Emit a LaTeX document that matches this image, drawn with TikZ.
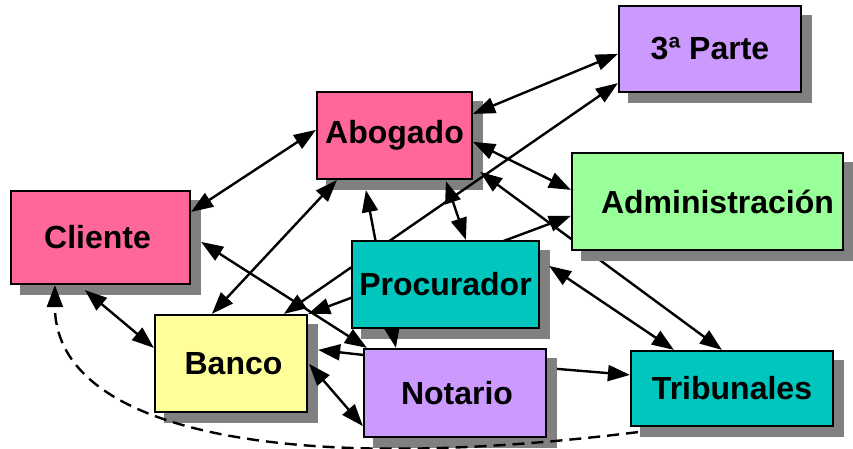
\documentclass[tikz,border=0pt]{standalone}
\usepackage{fontspec}
\setmainfont{Liberation Sans}
\usetikzlibrary{arrows.meta,calc}
\pgfdeclarelayer{shadows}
\pgfdeclarelayer{frontshadow}
\pgfdeclarelayer{front}
\pgfsetlayers{shadows,main,frontshadow,front}
\definecolor{pinkbox}{RGB}{255,102,153}
\definecolor{violetbox}{RGB}{204,153,255}
\definecolor{greenbox}{RGB}{153,255,153}
\definecolor{yellowbox}{RGB}{255,255,153}
\definecolor{tealbox}{RGB}{0,198,190}
\definecolor{shadowgray}{RGB}{128,128,128}
\begin{document}
\begin{tikzpicture}[x=1pt,y=-1pt,
  box/.style={draw=black, line width=2.2pt, inner sep=0pt,
    font=\fontsize{32}{38}\selectfont\bfseries},
  link/.style={line width=2.4pt, -{Triangle[length=22pt,width=16pt]}},
  twoway/.style={line width=2.4pt, {Triangle[length=22pt,width=16pt]}-{Triangle[length=22pt,width=16pt]}},
  dashlink/.style={line width=2.4pt, dash pattern=on 12pt off 7pt, -{Triangle[length=22pt,width=16pt]}}]
\useasboundingbox (0,0) rectangle (853,449);

% boxes
\begin{pgfonlayer}{front}
\node[box, fill=pinkbox,   minimum width=179pt, minimum height=93pt] (cl) at (100.5,237.5) {Cliente\hspace*{6pt}};
\node[box, fill=pinkbox,   minimum width=155pt, minimum height=87pt] (ab) at (394.5,135.5) {Abogado};
\node[box, fill=violetbox, minimum width=182pt, minimum height=86pt] (tp) at (710,49) {3ª Parte};
\node[box, fill=greenbox,  minimum width=271pt, minimum height=97pt] (ad) at (707.5,201.5) {\hspace*{20pt}Administración};
\node[box, fill=tealbox,   minimum width=187pt, minimum height=87pt] (pr) at (445.5,284.5) {Procurador};
\node[box, fill=yellowbox, minimum width=152pt, minimum height=97pt] (bn) at (231,363.5) {\hspace*{5pt}Banco};
\node[box, fill=violetbox, minimum width=182pt, minimum height=88pt] (nt) at (455,393) {\hspace*{4pt}Notario};
\node[box, fill=tealbox,   minimum width=202pt, minimum height=75pt] (tr) at (732,388.5) {Tribunales};
\end{pgfonlayer}

% drop shadows
\begin{pgfonlayer}{shadows}
\foreach \n in {cl,ab,tp,pr,bn,nt,tr}
  \fill[shadowgray] ($(\n.south west)+(10,10)$) rectangle ($(\n.north east)+(10,10)$);
\end{pgfonlayer}
\begin{pgfonlayer}{frontshadow}
\fill[shadowgray] ($(ad.south west)+(10,10)$) rectangle ($(ad.north east)+(10,10)$);
\end{pgfonlayer}

% connectors
\draw[twoway] ($(cl.north east)+(0,22)$) -- ($(ab.north west)+(0,39)$);
\draw[twoway] ($(cl.south west)+(75,5)$) -- ($(bn.north west)+(0,34)$);
\draw[twoway] ($(cl.north east)+(10,52)$) -- ($(nt.north west)+(4,0)$);
\draw[dashlink] ($(tr.south west)+(8,5)$) .. controls (250,480) and (55,420) .. ($(cl.south west)+(45,0)$);
\draw[twoway] ($(ab.south west)+(21,0)$) -- ($(bn.north west)+(58,0)$);
\draw[twoway] ($(bn.north west)+(130,0)$) -- ($(tp.south west)+(0,-10)$);
\draw[twoway] (bn.north east) -- ($(ad.north west)+(0,64)$);
\draw[twoway] ($(ab.north east)+(0,23)$) -- ($(tp.north west)+(0,49)$);
\draw[twoway] ($(ab.north east)+(0,51)$) -- ($(ad.north west)+(0,38)$);
\draw[twoway] ($(ab.north east)+(7,81)$) -- ($(tr.north west)+(92,0)$);
\draw[twoway] ($(ab.south west)+(130,1)$) -- ($(pr.north west)+(115,0)$);
\draw[twoway] ($(nt.north west)+(33,0)$) -- ($(ab.south west)+(50,10)$);
\draw[twoway] ($(pr.north east)+(9,26)$) -- ($(tr.north west)+(44,0)$);
\draw[link] ($(nt.north west)+(0,7)$) -- ($(bn.north east)+(10,36)$);
\draw[twoway] ($(bn.north east)+(1,50)$) -- ($(nt.south west)+(0,-12)$);
\draw[link] ($(nt.north east)+(10,21)$) -- ($(tr.north west)+(0,25)$);
\end{tikzpicture}
\end{document}
